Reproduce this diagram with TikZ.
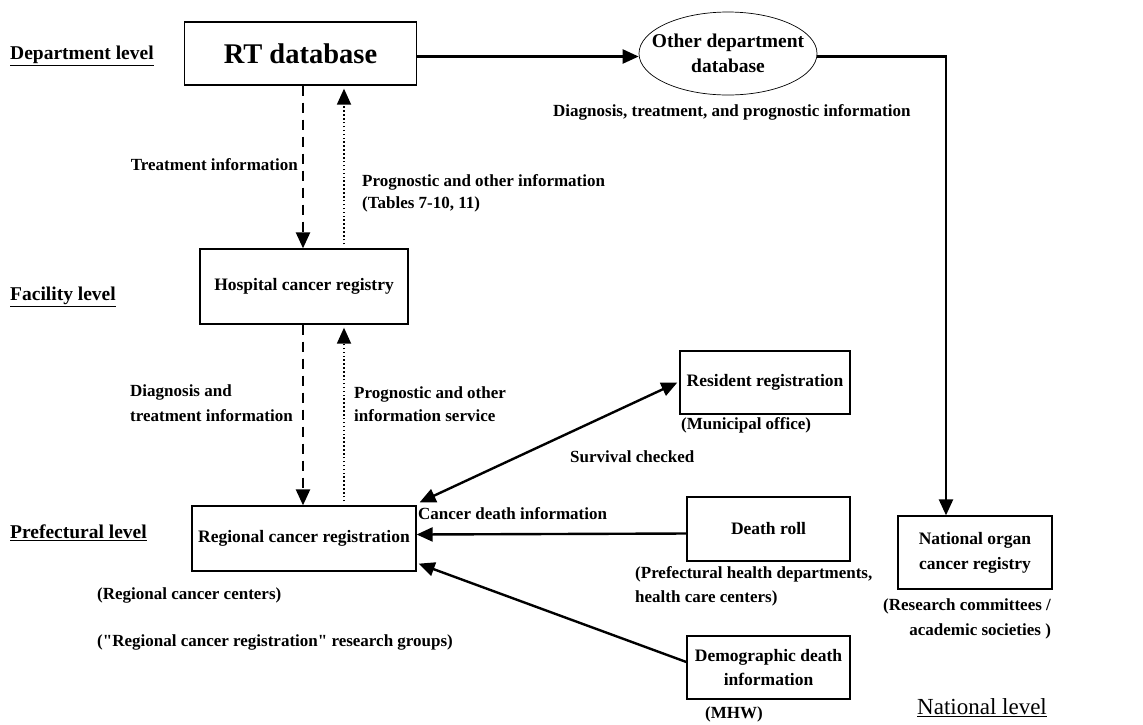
\documentclass[tikz,border=0pt]{standalone}
\usepackage{fontspec}
\setmainfont{Liberation Serif}
\usetikzlibrary{arrows.meta,shapes.geometric}
\begin{document}
\begin{tikzpicture}[x=1pt,y=-1pt,
  box/.style={draw,line width=1.3pt,inner sep=2pt,align=center,font=\bfseries\fontsize{17.5}{25}\selectfont},
  lbl/.style={inner sep=0pt,align=left,font=\bfseries\fontsize{17}{23.5}\selectfont},
  lvl/.style={inner sep=0pt,font=\bfseries\fontsize{19.5}{22}\selectfont},
  conn/.style={line width=2.4pt,-{Triangle[length=16pt,width=14pt]}},
  dconn/.style={line width=2.4pt,{Triangle[length=16pt,width=14pt]}-{Triangle[length=16pt,width=14pt]}},
  dashconn/.style={conn,dash pattern=on 10pt off 7pt},
  dotconn/.style={line width=1.8pt,dash pattern=on 1.5pt off 2.4pt,-{Triangle[length=16pt,width=14pt]}}]
\useasboundingbox (0,0) rectangle (1143,724);
\fill[white] (0,0) rectangle (1143,724);

% level captions
\node[lvl,anchor=west] (ldep) at (10,56) {\underline{Department level}};
\node[lvl,anchor=west] (lfac) at (10,297) {\underline{Facility level}};
\node[lvl,anchor=west] (lpre) at (10,533) {\underline{Prefectural level}};
\node[inner sep=0pt,anchor=west,font=\fontsize{23}{25}\selectfont] (lnat) at (917,708) {\underline{National level}};

% boxes
\node[box,minimum width=232pt,minimum height=63pt,font=\bfseries\fontsize{28.5}{30}\selectfont] (rt) at (300.5,53.5) {RT database};
\node[draw,ellipse,line width=0.7pt,minimum width=178pt,minimum height=83pt,inner xsep=-15pt,inner ysep=0pt,align=center,font=\bfseries\fontsize{19.5}{25}\selectfont] (oth) at (728,53.5) {Other department\\database};
\node[box,minimum width=208pt,minimum height=75pt] (hosp) at (304,286.5) {Hospital cancer registry};
\node[box,minimum width=224pt,minimum height=65pt] (reg) at (304,538.5) {Regional cancer registration};
\node[box,minimum width=170pt,minimum height=63pt] (res) at (765,382.5) {Resident registration};
\node[box,minimum width=163pt,minimum height=64pt] (death) at (768.5,529) {Death roll};
\node[box,minimum width=163pt,minimum height=63pt,font=\bfseries\fontsize{17.5}{24}\selectfont] (demo) at (768.5,667.5) {Demographic death\\information};
\node[box,minimum width=154pt,minimum height=73pt,font=\bfseries\fontsize{17.5}{25}\selectfont] (nat) at (975,552.5) {National organ\\cancer registry};

% connectors
\draw[conn] ([yshift=-3pt]rt.east) -- ([yshift=-3pt]oth.west);
\draw[conn] ([yshift=-3pt]oth.east) -| ([xshift=-29pt]nat.north);
\draw[dashconn] ([xshift=2.5pt]rt.south) -- ([xshift=-1pt]hosp.north);
\draw[dotconn] ([xshift=40pt,yshift=4pt]hosp.north) -- ([xshift=43.5pt,yshift=-3pt]rt.south);
\draw[dashconn] ([xshift=-1pt]hosp.south) -- ([xshift=-1pt]reg.north);
\draw[dotconn] ([xshift=40pt,yshift=4pt]reg.north) -- ([xshift=40pt,yshift=-3pt]hosp.south);
\draw[dconn] ([xshift=3pt,yshift=3pt]reg.north east) -- ([xshift=-2pt]res.west);
\draw[conn] ([yshift=-4.5pt]death.west) -- ([yshift=4pt]reg.east);
\draw[conn] ([yshift=5.5pt]demo.west) -- ([xshift=2pt,yshift=8pt]reg.south east);

% flow labels
\node[lbl,anchor=west] (tdi) at (553,112) {Diagnosis, treatment, and prognostic information};
\node[lbl,anchor=east] (tti) at (298,165) {Treatment information};
\node[lbl,anchor=west,font=\bfseries\fontsize{17}{22}\selectfont] (tpo) at (362,193) {Prognostic and other information\\(Tables 7-10, 11)};
\node[lbl,anchor=west,font=\bfseries\fontsize{17}{25}\selectfont] (tdt) at (130,403.5) {Diagnosis and\\treatment information};
\node[lbl,anchor=west] (tps) at (354,404) {Prognostic and other\\information service};
\node[lbl,anchor=west] (tsc) at (570,457) {Survival checked};
\node[lbl,anchor=west] (tcd) at (418,514) {Cancer death information};

% organisation notes
\node[lbl,anchor=west] (nmo) at (681,425) {(Municipal office)};
\node[lbl,anchor=west] (nph) at (635,586.5) {(Prefectural health departments,\\health care centers)};
\node[lbl,anchor=west] (nmh) at (705,714) {(MHW)};
\node[lbl,anchor=west] (nrc) at (97,595) {(Regional cancer centers)};
\node[lbl,anchor=west] (nrg) at (97,642) {(\textquotedbl Regional cancer registration\textquotedbl\ research groups)};
\node[lbl,anchor=west,align=right,font=\bfseries\fontsize{17}{25}\selectfont] (nac) at (883,618.5) {(Research committees /\\academic societies )};
\end{tikzpicture}
\end{document}
